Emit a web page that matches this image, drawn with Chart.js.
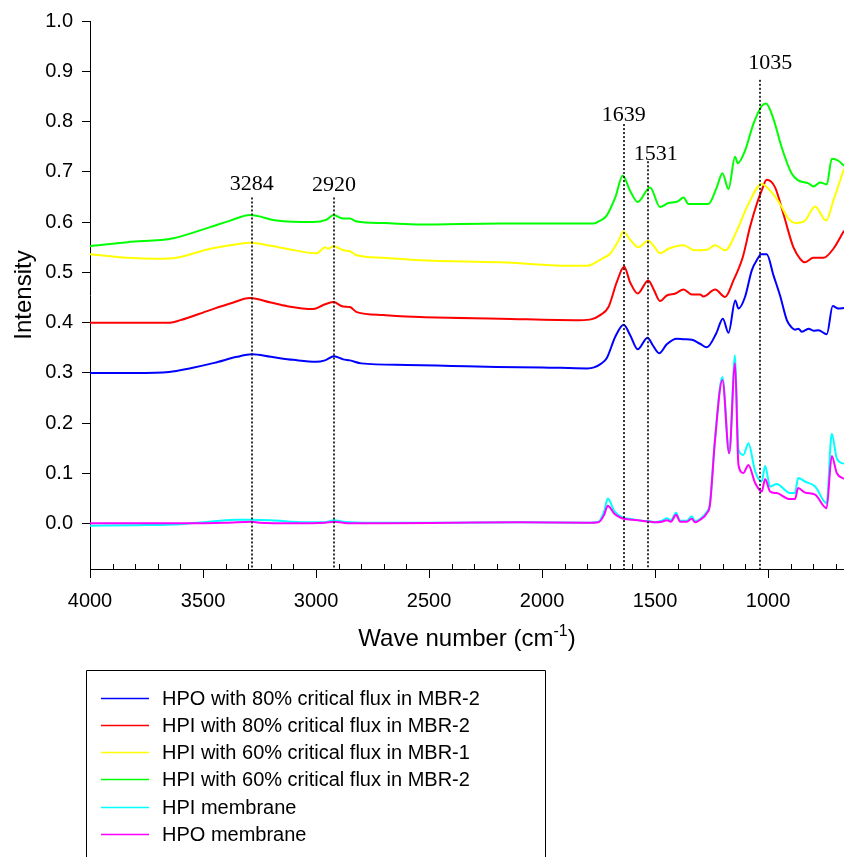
<!DOCTYPE html>
<html>
<head>
<meta charset="utf-8">
<script src="https://cdn.jsdelivr.net/npm/chart.js@4.4.1/dist/chart.umd.min.js"></script>
<style>
  html, body { margin: 0; padding: 0; background: #fff; }
  #wrap { width: 844px; height: 857px; }
</style>
</head>
<body>
<div id="wrap"><canvas id="grafico" width="844" height="857"></canvas></div>
<script>
// ---- datos ----
const seriesNames = [
  'HPO with 80% critical flux in MBR-2',
  'HPI with 80% critical flux in MBR-2',
  'HPI with 60% critical flux in MBR-1',
  'HPI with 60% critical flux in MBR-2',
  'HPI membrane',
  'HPO membrane'
];
const seriesColors = ['#0000ff', '#ff0000', '#ffff00', '#00ff00', '#00ffff', '#ff00ff'];

const hpo80Wn = [4000, 3800, 3650, 3550, 3450, 3350, 3284, 3200, 3100, 3000, 2960, 2920, 2880, 2850, 2800, 2600, 2400, 2200, 2000, 1800,
  1770, 1740, 1714, 1676, 1639, 1610, 1577, 1533, 1510, 1482, 1448, 1404, 1370, 1337, 1301, 1271, 1230, 1200, 1175, 1145,
  1131, 1102, 1072, 1045, 1031, 1006, 976, 947, 917, 895, 880, 866, 851, 835, 821, 799, 777, 740, 714, 689, 664];
const hpo80Int = [0.300, 0.300, 0.302, 0.310, 0.320, 0.332, 0.337, 0.332, 0.326, 0.322, 0.325, 0.333, 0.327, 0.325, 0.319, 0.316, 0.314, 0.312, 0.311, 0.309,
  0.311, 0.318, 0.329, 0.372, 0.396, 0.375, 0.347, 0.370, 0.355, 0.339, 0.357, 0.368, 0.367, 0.366, 0.358, 0.351, 0.378, 0.408, 0.380, 0.444,
  0.428, 0.451, 0.504, 0.528, 0.536, 0.536, 0.494, 0.454, 0.405, 0.390, 0.386, 0.388, 0.382, 0.385, 0.388, 0.384, 0.385, 0.377, 0.433, 0.428, 0.429];

const hpi80Wn = [4000, 3800, 3646, 3600, 3469, 3380, 3292, 3200, 3130, 3012, 2968, 2923, 2880, 2850, 2820, 2700, 2540, 2186, 1832, 1780,
  1743, 1706, 1669, 1637, 1610, 1577, 1530, 1505, 1478, 1448, 1410, 1374, 1337, 1301, 1286, 1234, 1190, 1153, 1112, 1080,
  1050, 1028, 1006, 969, 932, 888, 858, 836, 800, 755, 711, 664];
const hpi80Int = [0.400, 0.400, 0.400, 0.405, 0.425, 0.438, 0.449, 0.440, 0.433, 0.427, 0.435, 0.441, 0.432, 0.431, 0.421, 0.415, 0.411, 0.408, 0.405, 0.407,
  0.415, 0.431, 0.481, 0.511, 0.480, 0.458, 0.484, 0.465, 0.443, 0.454, 0.458, 0.466, 0.456, 0.456, 0.452, 0.466, 0.451, 0.484, 0.530, 0.590,
  0.636, 0.663, 0.684, 0.669, 0.616, 0.550, 0.527, 0.520, 0.529, 0.529, 0.547, 0.583];

const hpi60m1Wn = [4000, 3834, 3705, 3617, 3469, 3380, 3292, 3200, 3130, 2997, 2960, 2946, 2923, 2879, 2850, 2820, 2700, 2540, 2186, 1854,
  1800, 1774, 1736, 1699, 1662, 1640, 1610, 1574, 1530, 1505, 1478, 1441, 1374, 1325, 1271, 1234, 1190, 1138, 1087, 1028,
  984, 947, 910, 873, 836, 792, 743, 711, 664];
const hpi60m1Int = [0.536, 0.529, 0.527, 0.529, 0.547, 0.554, 0.559, 0.553, 0.547, 0.538, 0.550, 0.547, 0.552, 0.544, 0.542, 0.534, 0.529, 0.524, 0.520, 0.513,
  0.513, 0.517, 0.527, 0.537, 0.563, 0.581, 0.565, 0.550, 0.563, 0.552, 0.538, 0.547, 0.554, 0.544, 0.545, 0.554, 0.544, 0.583, 0.636, 0.676,
  0.659, 0.636, 0.607, 0.598, 0.603, 0.631, 0.603, 0.643, 0.706];

const hpi60m2Wn = [4000, 3834, 3631, 3469, 3380, 3292, 3174, 3012, 2953, 2923, 2879, 2850, 2820, 2700, 2540, 2186, 1832, 1773, 1743, 1714,
  1676, 1643, 1610, 1577, 1522, 1478, 1441, 1400, 1374, 1352, 1264, 1227, 1202, 1175, 1146, 1134, 1102, 1065, 1028, 1009,
  976, 940, 895, 866, 821, 799, 770, 740, 718, 689, 664];
const hpi60m2Int = [0.552, 0.560, 0.568, 0.590, 0.603, 0.614, 0.603, 0.600, 0.605, 0.614, 0.607, 0.607, 0.601, 0.598, 0.595, 0.597, 0.597, 0.597, 0.603, 0.613,
  0.649, 0.692, 0.662, 0.640, 0.669, 0.630, 0.638, 0.641, 0.649, 0.636, 0.636, 0.669, 0.697, 0.666, 0.730, 0.717, 0.742, 0.795, 0.831, 0.836,
  0.805, 0.749, 0.696, 0.683, 0.677, 0.671, 0.679, 0.675, 0.726, 0.722, 0.712];

const hpiMemWn = [4000, 3800, 3600, 3450, 3350, 3284, 3200, 3050, 2960, 2920, 2880, 2850, 2700, 2400, 2100, 1800, 1750, 1725, 1709, 1680,
  1647, 1600, 1560, 1522, 1500, 1470, 1448, 1430, 1407, 1389, 1360, 1338, 1323, 1300, 1271, 1257, 1235, 1202, 1172, 1146,
  1131, 1109, 1087, 1057, 1028, 1013, 991, 962, 903, 881, 867, 836, 792, 741, 718, 696, 664];
const hpiMemInt = [-0.004, -0.003, -0.001, 0.005, 0.008, 0.008, 0.007, 0.003, 0.003, 0.007, 0.004, 0.003, 0.002, 0.002, 0.003, 0.002, 0.004, 0.025, 0.050, 0.025,
  0.013, 0.009, 0.006, 0.005, 0.003, 0.006, 0.011, 0.007, 0.022, 0.006, 0.006, 0.015, 0.005, 0.010, 0.024, 0.041, 0.167, 0.292, 0.140, 0.335,
  0.147, 0.137, 0.160, 0.104, 0.084, 0.115, 0.074, 0.079, 0.061, 0.061, 0.091, 0.084, 0.074, 0.041, 0.179, 0.130, 0.119];

const hpoMemWn = [4000, 3600, 3400, 3284, 3250, 3100, 2960, 2920, 2880, 2850, 2700, 2400, 2100, 1800, 1750, 1725, 1709, 1680, 1647, 1600,
  1560, 1522, 1500, 1470, 1448, 1430, 1407, 1389, 1360, 1338, 1323, 1300, 1271, 1257, 1235, 1202, 1172, 1146, 1131, 1109,
  1087, 1057, 1028, 1013, 991, 962, 903, 881, 867, 836, 792, 741, 718, 696, 664];
const hpoMemInt = [0.001, 0.001, 0.002, 0.004, 0.002, 0.001, 0.002, 0.004, 0.002, 0.001, 0.001, 0.002, 0.003, 0.002, 0.003, 0.018, 0.036, 0.020, 0.011, 0.008,
  0.006, 0.004, 0.003, 0.004, 0.007, 0.004, 0.018, 0.004, 0.004, 0.010, 0.003, 0.008, 0.021, 0.038, 0.165, 0.286, 0.140, 0.319, 0.117, 0.101,
  0.117, 0.081, 0.064, 0.089, 0.064, 0.061, 0.049, 0.049, 0.071, 0.062, 0.058, 0.031, 0.135, 0.101, 0.089];

const xTicks = [4000, 3500, 3000, 2500, 2000, 1500, 1000];
const yTicks = [0, 0.1, 0.2, 0.3, 0.4, 0.5, 0.6, 0.7, 0.8, 0.9, 1.0];

// marcas de picos (numero de onda, etiqueta)
const peakWn = [3284, 2920, 1639, 1531, 1035];
const peakText = ['3284', '2920', '1639', '1531', '1035'];
const peakLabelWn = [3284, 2920, 1639, 1497, 990];
const peakLabelInt = [0.663, 0.661, 0.802, 0.724, 0.904];
const peakLineTop = [0.649, 0.649, 0.795, 0.721, 0.883];

const SANS = "'Liberation Sans', Arial, sans-serif";
const SERIF = "'Liberation Serif', 'Times New Roman', serif";

function puntos(wn, val) {
  return wn.map((w, i) => ({ x: w, y: val[i] }));
}

const allWn = [hpo80Wn, hpi80Wn, hpi60m1Wn, hpi60m2Wn, hpiMemWn, hpoMemWn];
const allInt = [hpo80Int, hpi80Int, hpi60m1Int, hpi60m2Int, hpiMemInt, hpoMemInt];

const datasets = seriesNames.map((name, i) => ({
  label: name,
  data: puntos(allWn[i], allInt[i]),
  borderColor: seriesColors[i],
  backgroundColor: seriesColors[i],
  borderWidth: 2,
  pointRadius: 0,
  fill: false,
  cubicInterpolationMode: 'monotone',
  order: seriesNames.length - i
}));

// ticks menores hacia dentro, picos, titulos y leyenda
const decoracion = {
  id: 'decoracion',
  afterDraw(chart) {
    const ctx = chart.ctx;
    const sx = chart.scales.x;
    const sy = chart.scales.y;
    const area = chart.chartArea;
    ctx.save();

    ctx.strokeStyle = '#000';
    ctx.lineWidth = 1;
    for (let w = 3900; w >= 700; w -= 100) {
      if (w % 500 === 0) continue;
      const px = Math.round(sx.getPixelForValue(w)) + 0.5;
      ctx.beginPath();
      ctx.moveTo(px, area.bottom);
      ctx.lineTo(px, area.bottom - 5);
      ctx.stroke();
    }

    // lineas punteadas de picos
    ctx.setLineDash([2, 2]);
    ctx.lineWidth = 1.6;
    peakWn.forEach((w, i) => {
      const px = Math.round(sx.getPixelForValue(w));
      ctx.beginPath();
      ctx.moveTo(px, sy.getPixelForValue(peakLineTop[i]));
      ctx.lineTo(px, area.bottom);
      ctx.stroke();
    });
    ctx.setLineDash([]);

    ctx.fillStyle = '#000';
    ctx.font = '22px ' + SERIF;
    ctx.textAlign = 'center';
    ctx.textBaseline = 'alphabetic';
    peakText.forEach((t, i) => {
      ctx.fillText(t, sx.getPixelForValue(peakLabelWn[i]), sy.getPixelForValue(peakLabelInt[i]));
    });

    // titulo eje x con superindice
    ctx.font = '24px ' + SANS;
    ctx.textAlign = 'left';
    const parte1 = 'Wave number (cm';
    const sup = '-1';
    const parte2 = ')';
    const w1 = ctx.measureText(parte1).width;
    const w3 = ctx.measureText(parte2).width;
    ctx.font = '16px ' + SANS;
    const w2 = ctx.measureText(sup).width;
    const total = w1 + w2 + w3;
    const cx = (area.left + area.right) / 2;
    let tx = cx - total / 2;
    const base = 646;
    ctx.font = '24px ' + SANS;
    ctx.fillText(parte1, tx, base);
    ctx.font = '16px ' + SANS;
    ctx.fillText(sup, tx + w1, base - 10);
    ctx.font = '24px ' + SANS;
    ctx.fillText(parte2, tx + w1 + w2, base);

    // titulo eje y
    ctx.save();
    ctx.translate(31, (area.top + area.bottom) / 2);
    ctx.rotate(-Math.PI / 2);
    ctx.textAlign = 'center';
    ctx.fillText('Intensity', 0, 0);
    ctx.restore();

    // leyenda
    ctx.lineWidth = 1;
    ctx.strokeStyle = '#000';
    ctx.beginPath();
    ctx.moveTo(86.5, 870);
    ctx.lineTo(86.5, 670.5);
    ctx.lineTo(545.5, 670.5);
    ctx.lineTo(545.5, 870);
    ctx.stroke();

    ctx.font = '20px ' + SANS;
    ctx.textAlign = 'left';
    ctx.textBaseline = 'middle';
    seriesNames.forEach((name, i) => {
      const ry = Math.round(697.7 + i * 27.2) + 0.5;
      ctx.strokeStyle = seriesColors[i];
      ctx.lineWidth = 1.5;
      ctx.beginPath();
      ctx.moveTo(101, ry);
      ctx.lineTo(149, ry);
      ctx.stroke();
      ctx.fillStyle = '#000';
      ctx.fillText(name, 162, ry + 1);
    });

    ctx.restore();
  }
};

new Chart(document.getElementById('grafico'), {
  type: 'line',
  data: { datasets },
  options: {
    responsive: false,
    animation: false,
    parsing: true,
    layout: { padding: { top: 20, right: 0, left: 0, bottom: 0 } },
    plugins: {
      legend: { display: false },
      tooltip: { enabled: false },
      title: { display: false }
    },
    scales: {
      x: {
        type: 'linear',
        reverse: true,
        min: 664,
        max: 4000,
        afterBuildTicks: s => { s.ticks = xTicks.map(v => ({ value: v })); },
        afterFit: s => { s.height = 857 - 569; },
        grid: { display: true, drawOnChartArea: false, drawTicks: true, tickLength: 9, color: '#000', lineWidth: 1 },
        border: { display: true, color: '#000', width: 1 },
        ticks: {
          color: '#000',
          font: { family: SANS, size: 20 },
          padding: 11,
          maxRotation: 0,
          autoSkip: false,
          callback: v => String(v)
        }
      },
      y: {
        min: -0.09,
        max: 1.0,
        afterBuildTicks: s => { s.ticks = yTicks.map(v => ({ value: v })); },
        afterFit: s => { s.width = 90; },
        grid: { display: true, drawOnChartArea: false, drawTicks: true, tickLength: 8, color: '#000', lineWidth: 1 },
        border: { display: true, color: '#000', width: 1 },
        ticks: {
          color: '#000',
          font: { family: SANS, size: 20 },
          padding: 9,
          autoSkip: false,
          callback: v => Number(v).toFixed(1)
        }
      }
    }
  },
  plugins: [decoracion]
});
</script>
</body>
</html>
